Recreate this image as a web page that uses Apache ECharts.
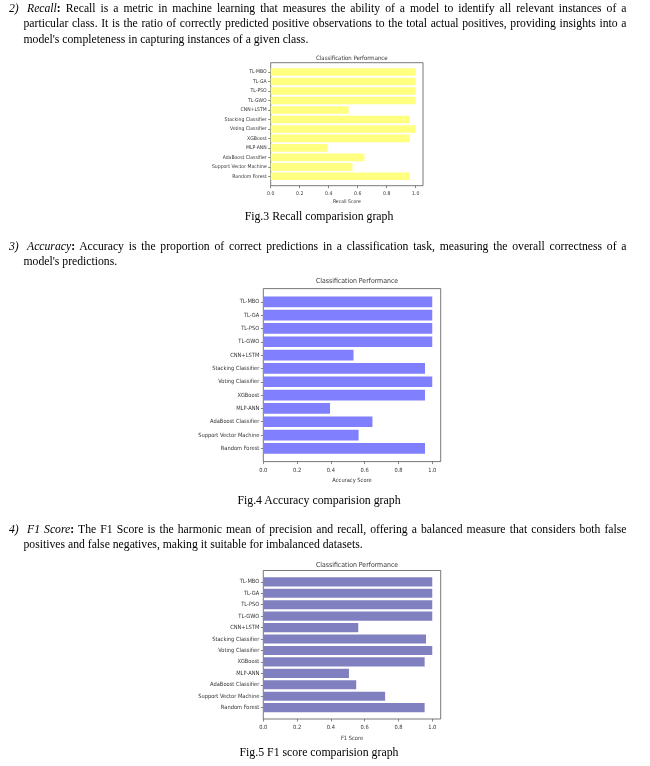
<!DOCTYPE html>
<html>
<head>
<meta charset="utf-8">
<script src="https://cdn.jsdelivr.net/npm/echarts@6/dist/echarts.min.js"></script>
<style>
  html, body { margin: 0; padding: 0; background: #fff; }
  #wrap { position: relative; width: 650px; height: 766px; overflow: hidden; }
  #chart { position: absolute; left: 0; top: 0; width: 650px; height: 766px; }
  .line { position: absolute; font-family: "Liberation Serif", "Times New Roman", serif; font-size: 11.7px; line-height: 14px; height: 14px; white-space: nowrap; color: #000; }
  .just { text-align: justify; text-align-last: justify; white-space: normal; }
  .num { position: absolute; font-family: "Liberation Serif", serif; font-size: 11.7px; line-height: 14px; color: #000; }
  .cap { position: absolute; width: 400px; margin-left: -200px; text-align: center; font-family: "Liberation Serif", serif; font-size: 11.8px; line-height: 14px; color: #000; }
</style>
</head>
<body>
<div id="wrap">
  <div id="chart"></div>

  <div class="num" style="left:9px; top:1.5px;"><i>2)</i></div>
  <div class="line just" style="left:27px; top:1.5px; width:599.5px;"><i>Recall</i><b>:</b> Recall is a metric in machine learning that measures the ability of a model to identify all relevant instances of a</div>
  <div class="line just" style="left:23.5px; top:17px; width:603px;">particular class. It is the ratio of correctly predicted positive observations to the total actual positives, providing insights into a</div>
  <div class="line" style="left:23.5px; top:32.5px;">model's completeness in capturing instances of a given class.</div>

  <div class="cap" style="left:319px; top:208.7px;">Fig.3 Recall comparision graph</div>

  <div class="num" style="left:9px; top:239.5px;"><i>3)</i></div>
  <div class="line just" style="left:27px; top:239.5px; width:599.5px;"><i>Accuracy</i><b>:</b> Accuracy is the proportion of correct predictions in a classification task, measuring the overall correctness of a</div>
  <div class="line" style="left:23.5px; top:255px;">model's predictions.</div>

  <div class="cap" style="left:319px; top:493px;">Fig.4 Accuracy comparision graph</div>

  <div class="num" style="left:9px; top:522.5px;"><i>4)</i></div>
  <div class="line just" style="left:27px; top:522.5px; width:599.5px;"><i>F1 Score</i><b>:</b> The F1 Score is the harmonic mean of precision and recall, offering a balanced measure that considers both false</div>
  <div class="line" style="left:23.5px; top:538px;">positives and false negatives, making it suitable for imbalanced datasets.</div>

  <div class="cap" style="left:319px; top:744.7px;">Fig.5 F1 score comparision graph</div>
</div>
<script>
// ---- data ----
const categories = ['TL-MBO', 'TL-GA', 'TL-PSO', 'TL-GWO', 'CNN+LSTM', 'Stacking Classifier', 'Voting Classifier', 'XGBoost', 'MLP-ANN', 'AdaBoost Classifier', 'Support Vector Machine', 'Random Forest'];
const recallScores   = [1.0, 1.0, 1.0, 1.0, 0.537, 0.959, 1.0, 0.959, 0.393, 0.646, 0.564, 0.959];
const accuracyScores = [1.0, 1.0, 1.0, 1.0, 0.534, 0.957, 1.0, 0.957, 0.395, 0.646, 0.564, 0.957];
const f1Scores       = [1.0, 1.0, 1.0, 1.0, 0.562, 0.963, 1.0, 0.955, 0.507, 0.550, 0.721, 0.955];
const xTickValues = [0.0, 0.2, 0.4, 0.6, 0.8, 1.0];
const chartTitle = 'Classification Performance';
const axisTitles = ['Recall Score', 'Accuracy Score', 'F1 Score'];

// ---- layout (pixels) ----
const panels = [
  { L: 270.7, W: 152.3, T: 62.7, H: 123.0, color: '#ffff80', title: 6.0, lab: 5.1, titleY: 50.5, labMargin: 5.5, nameGap: 13.5, data: recallScores },
  { L: 263.3, W: 177.4, T: 288.6, H: 173.0, color: '#8080ff', title: 6.9, lab: 5.7, titleY: 273.0, labMargin: 6.0, nameGap: 16.0, data: accuracyScores },
  { L: 263.3, W: 177.4, T: 570.5, H: 148.5, color: '#8080c0', title: 6.9, lab: 5.7, titleY: 556.5, labMargin: 6.0, nameGap: 17.0, data: f1Scores }
];
const FONT = '"DejaVu Sans Condensed", "Liberation Sans Narrow", "DejaVu Sans", sans-serif';
const XMAX = 1.05;

const grid = [], xAxis = [], yAxis = [], series = [], title = [];
panels.forEach((p, i) => {
  const unit = p.H / 12.98;
  const m = 0.49 * unit;
  grid.push({ left: p.L, top: p.T, width: p.W, height: p.H, show: true, borderColor: '#555', borderWidth: 0.8, backgroundColor: 'transparent', containLabel: false });
  grid.push({ left: p.L, top: p.T + m, width: p.W, height: p.H - 2 * m, containLabel: false });
  xAxis.push({
    gridIndex: 2 * i, type: 'value', min: 0, max: XMAX, interval: 0.2,
    axisLine: { show: false },
    splitLine: { show: false },
    axisTick: { show: true, length: 2.5, lineStyle: { color: '#555', width: 0.7 }, customValues: xTickValues },
    axisLabel: { fontFamily: FONT, fontSize: p.lab, color: '#333', margin: p.labMargin, customValues: xTickValues,
      formatter: v => (v > 1.0001 ? '' : v.toFixed(1)) },
    name: axisTitles[i], nameLocation: 'middle', nameGap: p.nameGap,
    nameTextStyle: { fontFamily: FONT, fontSize: p.lab, color: '#333' }
  });
  xAxis.push({ gridIndex: 2 * i + 1, type: 'value', min: 0, max: XMAX, show: false });
  yAxis.push({ gridIndex: 2 * i, type: 'value', show: false, min: 0, max: 1 });
  yAxis.push({
    gridIndex: 2 * i + 1, type: 'category', data: categories, inverse: true,
    axisLine: { show: false },
    axisTick: { show: true, alignWithLabel: true, length: 2.5, lineStyle: { color: '#555', width: 0.7 } },
    axisLabel: { fontFamily: FONT, fontSize: p.lab, color: '#333', margin: 4 },
    splitLine: { show: false }
  });
  series.push({
    type: 'bar', xAxisIndex: 2 * i + 1, yAxisIndex: 2 * i + 1, data: p.data,
    barCategoryGap: '20%', itemStyle: { color: p.color }, silent: true, animation: false
  });
  title.push({
    text: chartTitle, left: p.L + p.W / 2, top: p.titleY, textAlign: 'center',
    textStyle: { fontFamily: FONT, fontSize: p.title, fontWeight: 'normal', color: '#333' }
  });
});

const chart = echarts.init(document.getElementById('chart'), null, { renderer: 'canvas' });
chart.setOption({ animation: false, title, grid, xAxis, yAxis, series });
</script>
</body>
</html>
